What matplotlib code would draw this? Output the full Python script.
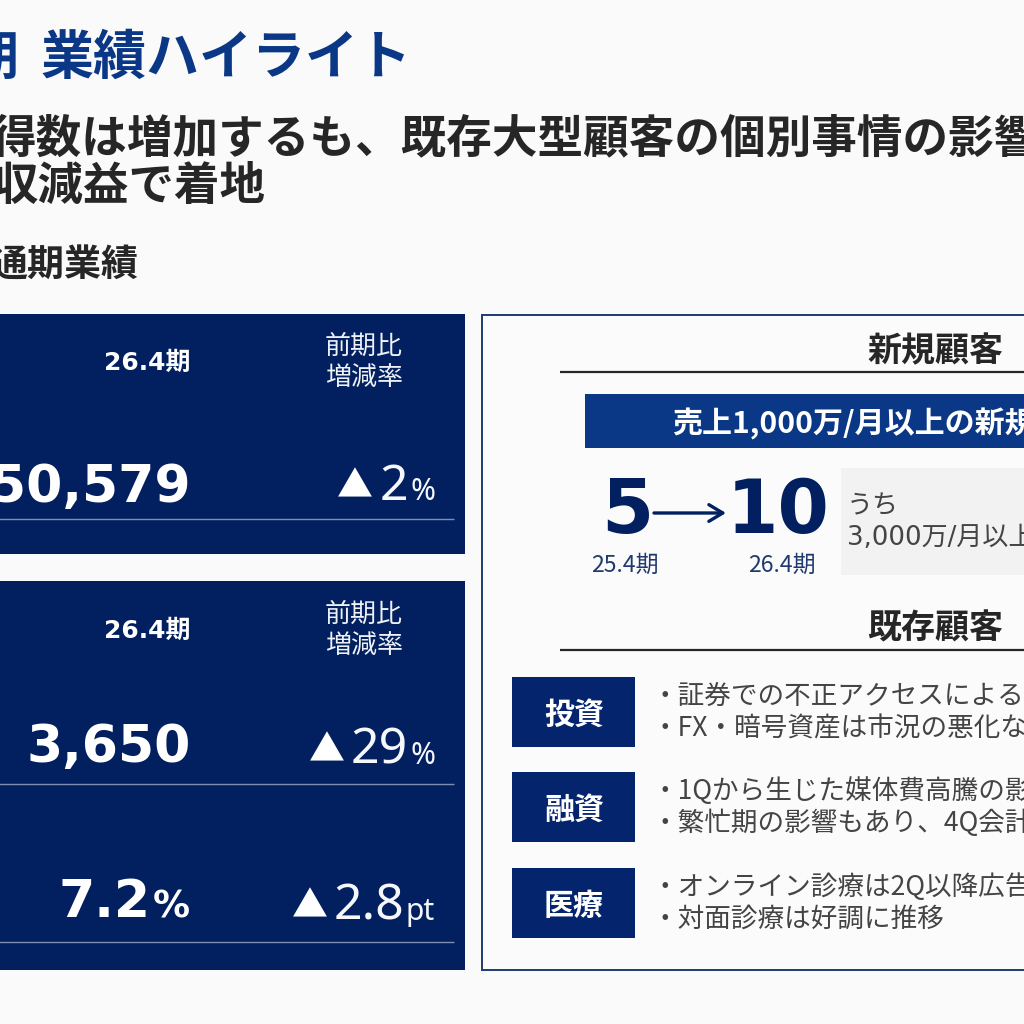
import matplotlib
matplotlib.use("Agg")
import matplotlib.pyplot as plt
from matplotlib.patches import Rectangle

plt.rcParams['font.family'] = ['Noto Sans CJK JP', 'DejaVu Sans']

NAVY = '#02205f'
BLUE = '#0a3886'
DARK = '#262626'
GREY = '#444444'
WIDE = ['DejaVu Sans', 'Noto Sans CJK JP']

title_left = '26.4期'
title_right = '業績ハイライト'
headline = ['得数は増加するも、既存大型顧客の個別事情の影響', '収減益で着地']
section = '通期業績'
period = '26.4期'
compare = ['前期比', '増減率']
values = ['50,579', '3,650', '7.2']
value_units = ['', '', '%']
changes = ['2', '29', '2.8']
change_units = ['%', '%', 'pt']
new_title = '新規顧客'
new_bar = '売上1,000万/月以上の新規顧客'
new_counts = ['5', '10']
new_periods = ['25.4期', '26.4期']
new_note = ['うち', '3,000万/月以上']
old_title = '既存顧客'
segments = ['投資', '融資', '医療']
segment_notes = [
    ['・証券での不正アクセスによる影響', '・FX・暗号資産は市況の悪化など'],
    ['・1Qから生じた媒体費高騰の影響', '・繁忙期の影響もあり、4Q会計'],
    ['・オンライン診療は2Q以降広告', '・対面診療は好調に推移'],
]

fig = plt.figure(figsize=(10.24, 10.24), dpi=100, facecolor='#fafafa')
ax = fig.add_axes([0, 0, 1, 1])
ax.set_xlim(0, 1024)
ax.set_ylim(1024, 0)
ax.axis('off')


def T(x, y, s, px, color=DARK, weight='normal', ha='left', va='center', **kw):
    if va == 'center':
        y = y + 2.5
    return ax.text(x, y, s, fontsize=px * 0.72, color=color, fontweight=weight,
                   ha=ha, va=va, clip_on=True, **kw)


def box(x0, y0, x1, y1, fc, ec='none', lw=0, z=1):
    ax.add_patch(Rectangle((x0, y0), x1 - x0, y1 - y0, facecolor=fc,
                           edgecolor=ec, linewidth=lw, zorder=z))


def hline(y, x0, x1, color, lw):
    ax.plot([x0, x1], [y, y], color=color, linewidth=lw, zorder=2,
            solid_capstyle='butt')


# header
T(19, 56, title_left, 52, BLUE, 'bold', ha='right')
T(41, 56, title_right, 53, BLUE, 'bold')
T(-10, 137, headline[0], 45.6, DARK, 'bold')
T(-7, 184, headline[1], 45.5, DARK, 'bold')
T(-10, 264, section, 37, DARK, 'bold')

# left panels
box(-5, 314, 465, 554, NAVY)
box(-5, 581, 465, 970, NAVY)
for top in (360, 628):
    T(191, top, period, 25, 'white', 'bold', ha='right', fontfamily=WIDE)
    T(364, top - 16, compare[0], 26, '#eef1f6', ha='center')
    T(364, top + 15, compare[1], 26, '#eef1f6', ha='center')
for y in (519, 784, 942):
    hline(y, -5, 454, '#7e8fb3', 1.0)

val_base = [502, 762, 917]
chg_base = [500, 764, 920]
chg_right = [408, 408, 404]
unit_left = [411, 411, 406]
tri_x = [354.5, 327, 310]
for i in range(3):
    if value_units[i]:
        T(190, val_base[i], value_units[i], 37, 'white', 'bold', ha='right', va='baseline',
          fontfamily=WIDE)
        T(150, val_base[i], values[i], 52, 'white', 'bold', ha='right', va='baseline',
          fontfamily=WIDE)
    else:
        T(191, val_base[i], values[i], 52, 'white', 'bold', ha='right', va='baseline',
          fontfamily=WIDE)
    T(chg_right[i], chg_base[i], changes[i], 50, '#f5f7fa', ha='right', va='baseline',
      fontfamily=['Noto Sans'])
    T(unit_left[i], chg_base[i], change_units[i], 30, '#f5f7fa', va='baseline',
      fontfamily=['Noto Sans'])
    T(tri_x[i], chg_base[i] - 3, '▲', 36, 'white', ha='center', va='baseline')

# right panel
box(482, 315, 1060, 970, '#fbfbfc', '#1f3a6e', 1.4)
T(935, 348, new_title, 34, DARK, 'bold', ha='center')
hline(372, 560, 1030, DARK, 1.6)
box(585, 394, 1030, 448, BLUE, z=2)
T(672, 421, new_bar, 30, 'white', 'bold', zorder=3)

T(627, 533, new_counts[0], 75, NAVY, 'bold', ha='center', va='baseline', fontfamily=WIDE)
T(830, 533, new_counts[1], 74, NAVY, 'bold', ha='right', va='baseline', fontfamily=WIDE)
ax.annotate('', xy=(726, 513), xytext=(654, 513),
            arrowprops=dict(arrowstyle='->,head_length=1.0,head_width=0.6',
                            color=NAVY, lw=2.4, shrinkA=0, shrinkB=0))
T(625, 563, new_periods[0], 23, '#1f3a6e', ha='center')
T(782, 563, new_periods[1], 23, '#1f3a6e', ha='center')

box(841, 468, 1030, 575, '#f2f2f2', z=2)
T(847, 503, new_note[0], 26, GREY, zorder=3)
T(847, 536, new_note[1], 26, GREY, zorder=3, fontfamily=WIDE)

T(935, 625, old_title, 34, DARK, 'bold', ha='center')
hline(650, 560, 1030, DARK, 1.6)

seg_top = [677, 772, 868]
for i, name in enumerate(segments):
    t = seg_top[i]
    box(512, t, 635, t + 70, '#04246e', z=2)
    T(574, t + 35, name, 30, 'white', 'bold', ha='center', zorder=3)
    for j, note in enumerate(segment_notes[i]):
        T(651, t + 17 + j * 32, note, 26.6, GREY, zorder=3)

fig.savefig('out.png', dpi=100, facecolor=fig.get_facecolor())
